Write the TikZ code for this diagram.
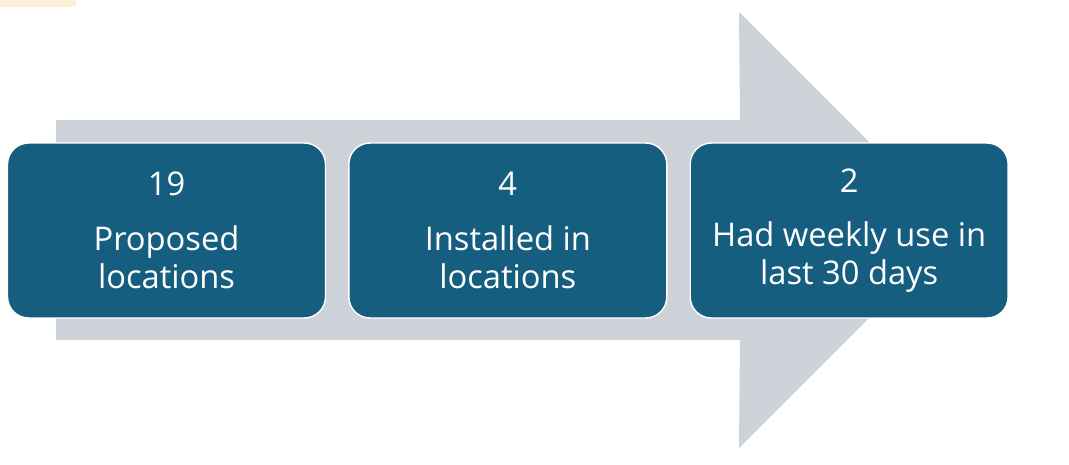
\documentclass[tikz,border=0pt]{standalone}
\usepackage{fontspec}
\setsansfont{Open Sans}
\usepackage{tikz}
\usetikzlibrary{positioning}
\definecolor{StageBlue}{HTML}{165E80}
\definecolor{StageGrey}{HTML}{CDD2D9}
\definecolor{StagePeach}{HTML}{FDEFD9}

\begin{document}
\begin{tikzpicture}[
  x=0.02cm,
  y=-0.02cm,
  font=\sffamily\fontsize{18.6}{21.5}\selectfont,
  stagebox/.style={
    draw=white,
    line width=0.8pt,
    rounded corners=12pt,
    fill=StageBlue,
    text=white,
    align=center,
    minimum width=6.36cm,
    minimum height=3.5cm,
    inner sep=0pt
  },
  bigarrow/.style={fill=StageGrey, draw=none},
  node distance=0.44cm
]
\useasboundingbox (0,0) rectangle (1069,464);
\fill[StagePeach] (0,0) rectangle (76,7);

% grey arrow behind the stages
\coordinate (tail top) at (56,120);
\coordinate (tail bot) at (56,340);
\coordinate (head top) at (739,12);
\coordinate (head bot) at (739,448);
\coordinate (tip) at (957,230);
\fill[bigarrow] (tail top) -- (740,120) -- (head top) -- (tip) -- (head bot) -- (740,340) -- (tail bot) -- cycle;

\node[stagebox] (proposed) at (166.5,230.5) {19\\[0.34cm]Proposed\\locations};
\node[stagebox, right=of proposed] (installed) {4\\[0.34cm]Installed in\\locations};
\node[stagebox, right=of installed] (weekly) {2\\[0.34cm]Had weekly use in\\last 30 days};
\end{tikzpicture}
\end{document}
